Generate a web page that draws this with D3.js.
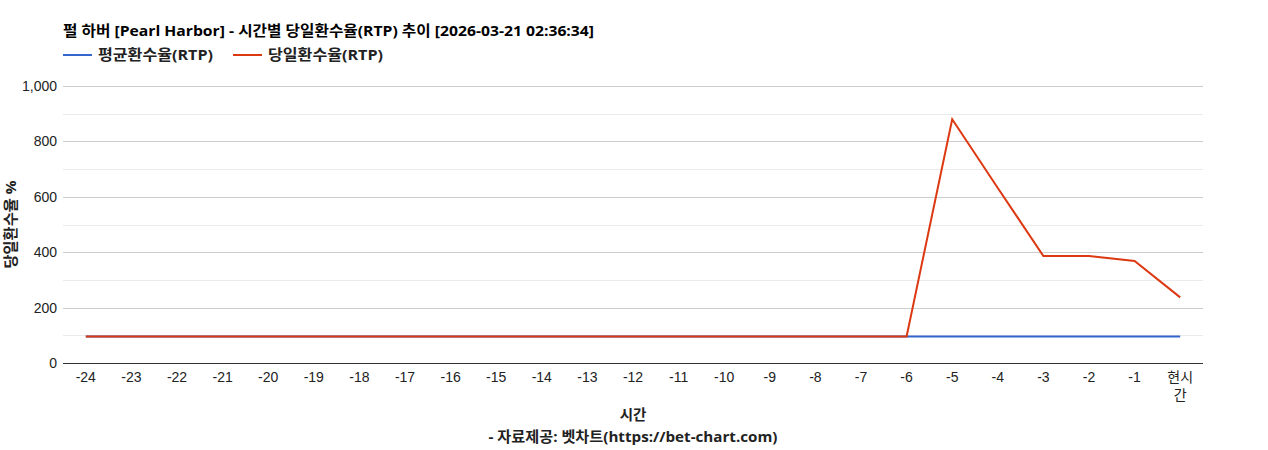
<!DOCTYPE html>
<html><head><meta charset="utf-8">
<script src="https://cdn.jsdelivr.net/npm/d3@7"></script>
<style>
body{margin:0;background:#fff;}
svg{font-family:"Liberation Sans",Arial,"Noto Sans CJK KR",sans-serif;}
.b{font-family:"Open Sans","Noto Sans CJK KR",sans-serif;font-weight:bold;}
</style></head>
<body><svg id="c" width="1268" height="450"></svg>
<script>
const categories = ["-24","-23","-22","-21","-20","-19","-18","-17","-16","-15","-14","-13","-12","-11","-10","-9","-8","-7","-6","-5","-4","-3","-2","-1","현시간"];
const avgRTP = [96,96,96,96,96,96,96,96,96,96,96,96,96,96,96,96,96,96,96,96,96,96,96,96,96];
const dayRTP = [96,96,96,96,96,96,96,96,96,96,96,96,96,96,96,96,96,96,96,880,632,386,386,368,237];
const yTicks = [0,200,400,600,800,1000];
const yMinor = [100,300,500,700,900];
const seriesNames = ["평균환수율(RTP)","당일환수율(RTP)"];
const colors = ["#3366cc","#dc3912"];
const titleText = "펄 하버 [Pearl Harbor] - 시간별 당일환수율(RTP) 추이 [2026-03-21 02:36:34]";

const svg = d3.select("#c");
const L=63, R=1203, T=86, B=363;
const x = d3.scaleBand().domain(categories).range([L,R]);
const y = d3.scaleLinear().domain([0,1000]).range([B,T]);

svg.append("g").selectAll("line").data(yMinor).join("line")
 .attr("x1",L).attr("x2",R).attr("y1",d=>Math.round(y(d))+0.5).attr("y2",d=>Math.round(y(d))+0.5)
 .attr("stroke","#ebebeb").attr("stroke-width",1);
svg.append("g").selectAll("line").data(yTicks.filter(d=>d>0)).join("line")
 .attr("x1",L).attr("x2",R).attr("y1",d=>Math.round(y(d))+0.5).attr("y2",d=>Math.round(y(d))+0.5)
 .attr("stroke","#cccccc").attr("stroke-width",1);

const fmt = d3.format(",");
svg.append("g").selectAll("text").data(yTicks).join("text")
 .attr("x",L-6).attr("y",d=>y(d)+5).attr("text-anchor","end")
 .attr("font-size",14).attr("fill","#222").text(d=>fmt(d));

const xl = svg.append("g").selectAll("text").data(categories).join("text")
 .attr("x",d=>x(d)+x.bandwidth()/2).attr("y",B+19).attr("text-anchor","middle")
 .attr("font-size",14).attr("fill","#222");
xl.each(function(d){
  const t=d3.select(this);
  if(d.length>2 && !d.startsWith("-")){
    t.append("tspan").attr("x",x(d)+x.bandwidth()/2).attr("dy",0).text(d.slice(0,2));
    t.append("tspan").attr("x",x(d)+x.bandwidth()/2).attr("dy",18).text(d.slice(2));
  } else t.text(d);
});

const line = d3.line().x((d,i)=>x(categories[i])+x.bandwidth()/2).y(d=>y(d));
[avgRTP,dayRTP].forEach((s,i)=>{
  svg.append("path").attr("d",line(s)).attr("fill","none")
   .attr("stroke",colors[i]).attr("stroke-width",2).attr("stroke-linejoin","miter");
});

svg.append("line").attr("x1",L).attr("x2",R).attr("y1",B+0.5).attr("y2",B+0.5).attr("stroke","#333").attr("stroke-width",1);

svg.append("text").attr("class","b").attr("x",L).attr("y",36).attr("font-size",14.5).attr("fill","#000")
 .attr("textLength",531).attr("lengthAdjust","spacingAndGlyphs").text(titleText);

const lx=[63,233];
seriesNames.forEach((n,i)=>{
  svg.append("line").attr("x1",lx[i]).attr("x2",lx[i]+29).attr("y1",55).attr("y2",55).attr("stroke",colors[i]).attr("stroke-width",2);
  svg.append("text").attr("class","b").attr("x",lx[i]+35).attr("y",60).attr("font-size",14.5).attr("fill","#222")
   .attr("textLength",115).attr("lengthAdjust","spacingAndGlyphs").text(n);
});

svg.append("text").attr("class","b").attr("transform",`translate(16,${(T+B)/2}) rotate(-90)`).attr("text-anchor","middle")
 .attr("font-size",14.5).attr("fill","#222").attr("textLength",88).attr("lengthAdjust","spacingAndGlyphs").text("당일환수율 %");

svg.append("text").attr("class","b").attr("x",(L+R)/2).attr("y",420).attr("text-anchor","middle").attr("font-size",14.5).attr("fill","#222").text("시간");
svg.append("text").attr("class","b").attr("x",(L+R)/2).attr("y",442).attr("text-anchor","middle").attr("font-size",14.5).attr("fill","#222")
 .attr("textLength",289).attr("lengthAdjust","spacingAndGlyphs").text("- 자료제공: 벳차트(https://bet-chart.com)");
</script></body></html>
